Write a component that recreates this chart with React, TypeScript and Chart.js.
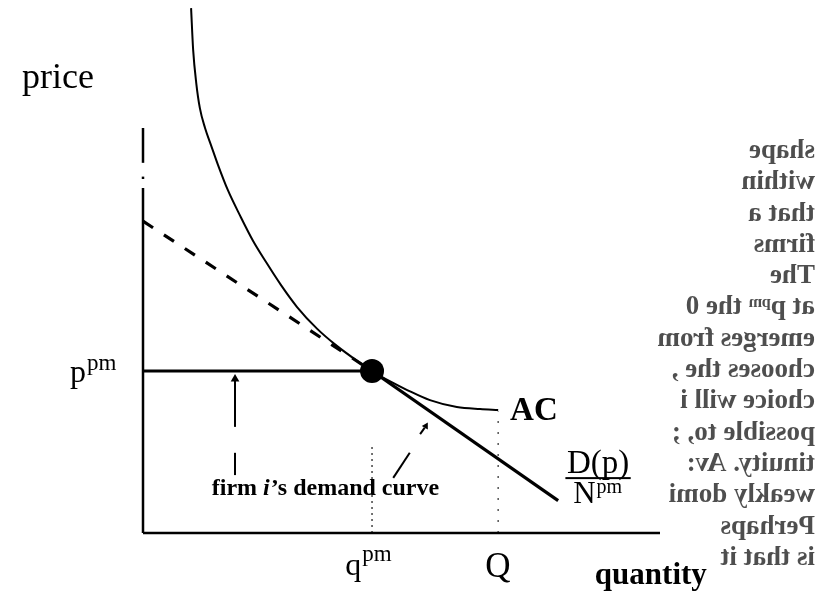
import React, { useEffect, useRef } from "react";
import { Chart, registerables } from "chart.js";

Chart.register(...registerables);

// ---- data (arbitrary units: quantity 0..10, price 0..10) ----
const acQuantity = [0.93, 0.97, 1.03, 1.1, 1.2, 1.32, 1.45, 1.64, 1.88, 2.13, 2.38, 2.67, 2.98, 3.37, 3.75, 4.12, 4.43, 4.8, 5.11, 5.55, 6.07, 6.52, 6.87];
const acCost = [12.96, 11.93, 11.11, 10.49, 10.0, 9.56, 9.09, 8.47, 7.83, 7.21, 6.69, 6.12, 5.58, 5.04, 4.62, 4.27, 4.0, 3.73, 3.53, 3.28, 3.11, 3.06, 3.04];
const demandQuantity = [0, 4.43, 8.03];
const demandPrice = [7.7, 4.0, 0.8];
const qPM = 4.43;
const pPM = 4.0;
const qBig = 6.87;
const bleedLines = [
  "shape",
  "within",
  "that a",
  "firms",
  "The",
  "at pᵖᵐ the 0",
  "emerges from",
  "chooses the ,",
  "choice will i",
  "possible to, ;",
  "tinuity. Av:",
  "weakly domi",
  "Perhaps",
  "is that it",
];

const SERIF = '"Liberation Serif", "Times New Roman", serif';

const pts = (xs: number[], ys: number[]) => xs.map((x, i) => ({ x, y: ys[i] }));

const labelPlugin = {
  id: "labels",
  afterDatasetsDraw(chart: any) {
    const ctx = chart.ctx as CanvasRenderingContext2D;
    const xs = chart.scales.x;
    const ys = chart.scales.y;
    const px = (v: number) => xs.getPixelForValue(v);
    const py = (v: number) => ys.getPixelForValue(v);
    ctx.save();
    ctx.fillStyle = "#000";
    ctx.textBaseline = "alphabetic";
    ctx.textAlign = "left";

    const text = (s: string, x: number, y: number, font: string) => {
      ctx.font = font;
      ctx.fillText(s, x, y);
      return ctx.measureText(s).width;
    };
    const sup = (base: string, supText: string, x: number, y: number, bf: string, sf: string, raise: number) => {
      const w = text(base, x, y, bf);
      text(supText, x + w + 1, y - raise, sf);
    };

    // axis titles
    text("price", px(-2.34), py(11.0), `36px ${SERIF}`);
    text("quantity", px(8.74), py(-1.26), `bold 31px ${SERIF}`);

    // tick-like labels
    sup("p", "pm", px(-1.41), py(3.73), `32px ${SERIF}`, `23px ${SERIF}`, 12);
    sup("q", "pm", px(3.91), py(-1.04), `32px ${SERIF}`, `23px ${SERIF}`, 14);
    text("Q", px(6.62), py(-1.09), `35px ${SERIF}`);

    // curve labels
    text("AC", px(7.1), py(2.79), `bold 33px ${SERIF}`);
    const dw = text("D(p)", px(8.2), py(1.48), `33px ${SERIF}`);
    ctx.fillRect(px(8.17), py(1.38), dw + 3, 2);
    sup("N", "pm", px(8.32), py(0.74), `31px ${SERIF}`, `20px ${SERIF}`, 10);

    // annotation
    let x = px(1.33);
    const yb = py(0.94);
    x += text("firm ", x, yb, `bold 24px ${SERIF}`);
    x += text("i", x, yb, `italic bold 24px ${SERIF}`);
    text("\u2019s demand curve", x + 1, yb, `bold 24px ${SERIF}`);

    // bleed-through text from the reverse of the scanned page (mirrored)
    ctx.fillStyle = "rgba(10,10,10,0.72)";
    ctx.font = `bold 27px ${SERIF}`;
    const right = px(13.0);
    bleedLines.forEach((s, i) => {
      ctx.save();
      ctx.translate(right, py(9.26) + i * 31.3);
      ctx.scale(-1, 1);
      ctx.fillText(s, 0, 0);
      ctx.restore();
    });
    ctx.restore();
  },
};

export default function App() {
  const ref = useRef<HTMLCanvasElement>(null);
  useEffect(() => {
    if (!ref.current) return;
    const black = "#000";
    const line = (data: any[], width: number, extra: any = {}) => ({
      type: "line",
      data,
      borderColor: black,
      backgroundColor: black,
      borderWidth: width,
      pointRadius: 0,
      fill: false,
      clip: false,
      tension: 0,
      ...extra,
    });
    const chart = new Chart(ref.current, {
      type: "line",
      data: {
        datasets: [
          // axes
          line([{ x: 0, y: 0 }, { x: 0, y: 8.52 }], 2.5),
          line([{ x: 0, y: 8.74 }, { x: 0, y: 8.8 }], 2.5),
          line([{ x: 0, y: 9.14 }, { x: 0, y: 10 }], 2.5),
          line([{ x: 0, y: 0 }, { x: 10, y: 0 }], 2.5),
          // dotted guides
          line([{ x: qPM, y: 0 }, { x: qPM, y: 2.2 }], 1.5, { borderDash: [2, 4], borderColor: "#444" }),
          line([{ x: qBig, y: 0 }, { x: qBig, y: 3.0 }], 1.5, { borderDash: [2, 9], borderColor: "#555" }),
          // p^pm horizontal
          line([{ x: 0, y: pPM }, { x: qPM, y: pPM }], 3),
          // aggregate demand / N (dashed above p^pm, solid below)
          line(pts(demandQuantity, demandPrice), 3.2, {
            segment: { borderDash: (c: any) => (c.p0DataIndex === 0 ? [12, 13] : undefined) },
          }),
          // AC curve
          line(pts(acQuantity, acCost), 2, { cubicInterpolationMode: "monotone" }),
          // equilibrium dot
          line([{ x: qPM, y: pPM }], 0, { showLine: false, pointRadius: 12, pointStyle: "circle" }),
          // annotation arrows
          line([{ x: 1.78, y: 2.62 }, { x: 1.78, y: 3.8 }], 2),
          line([{ x: 1.78, y: 3.8 }], 0, { showLine: false, pointRadius: 5, pointStyle: "triangle" }),
          line([{ x: 1.78, y: 1.43 }, { x: 1.78, y: 1.98 }], 2),
          line([{ x: 4.84, y: 1.36 }, { x: 5.16, y: 1.98 }], 2),
          line([{ x: 5.36, y: 2.44 }, { x: 5.45, y: 2.6 }], 2),
          line([{ x: 5.47, y: 2.64 }], 0, { showLine: false, pointRadius: 4, pointStyle: "triangle", rotation: 30 }),
        ] as any,
      },
      options: {
        animation: false,
        responsive: false,
        maintainAspectRatio: false,
        layout: { padding: { left: 143, top: 128, right: 162, bottom: 58 } },
        scales: {
          x: { type: "linear", min: 0, max: 10, display: false },
          y: { type: "linear", min: 0, max: 10, display: false },
        },
        plugins: { legend: { display: false }, tooltip: { enabled: false } },
        elements: { point: { radius: 0 } },
      },
      plugins: [labelPlugin],
    } as any);
    return () => chart.destroy();
  }, []);
  return (
    <div style={{ position: "fixed", left: 0, top: 0, width: 822, height: 591, background: "#fff" }}>
      <canvas ref={ref} width={822} height={591} style={{ width: 822, height: 591, display: "block" }} />
    </div>
  );
}
